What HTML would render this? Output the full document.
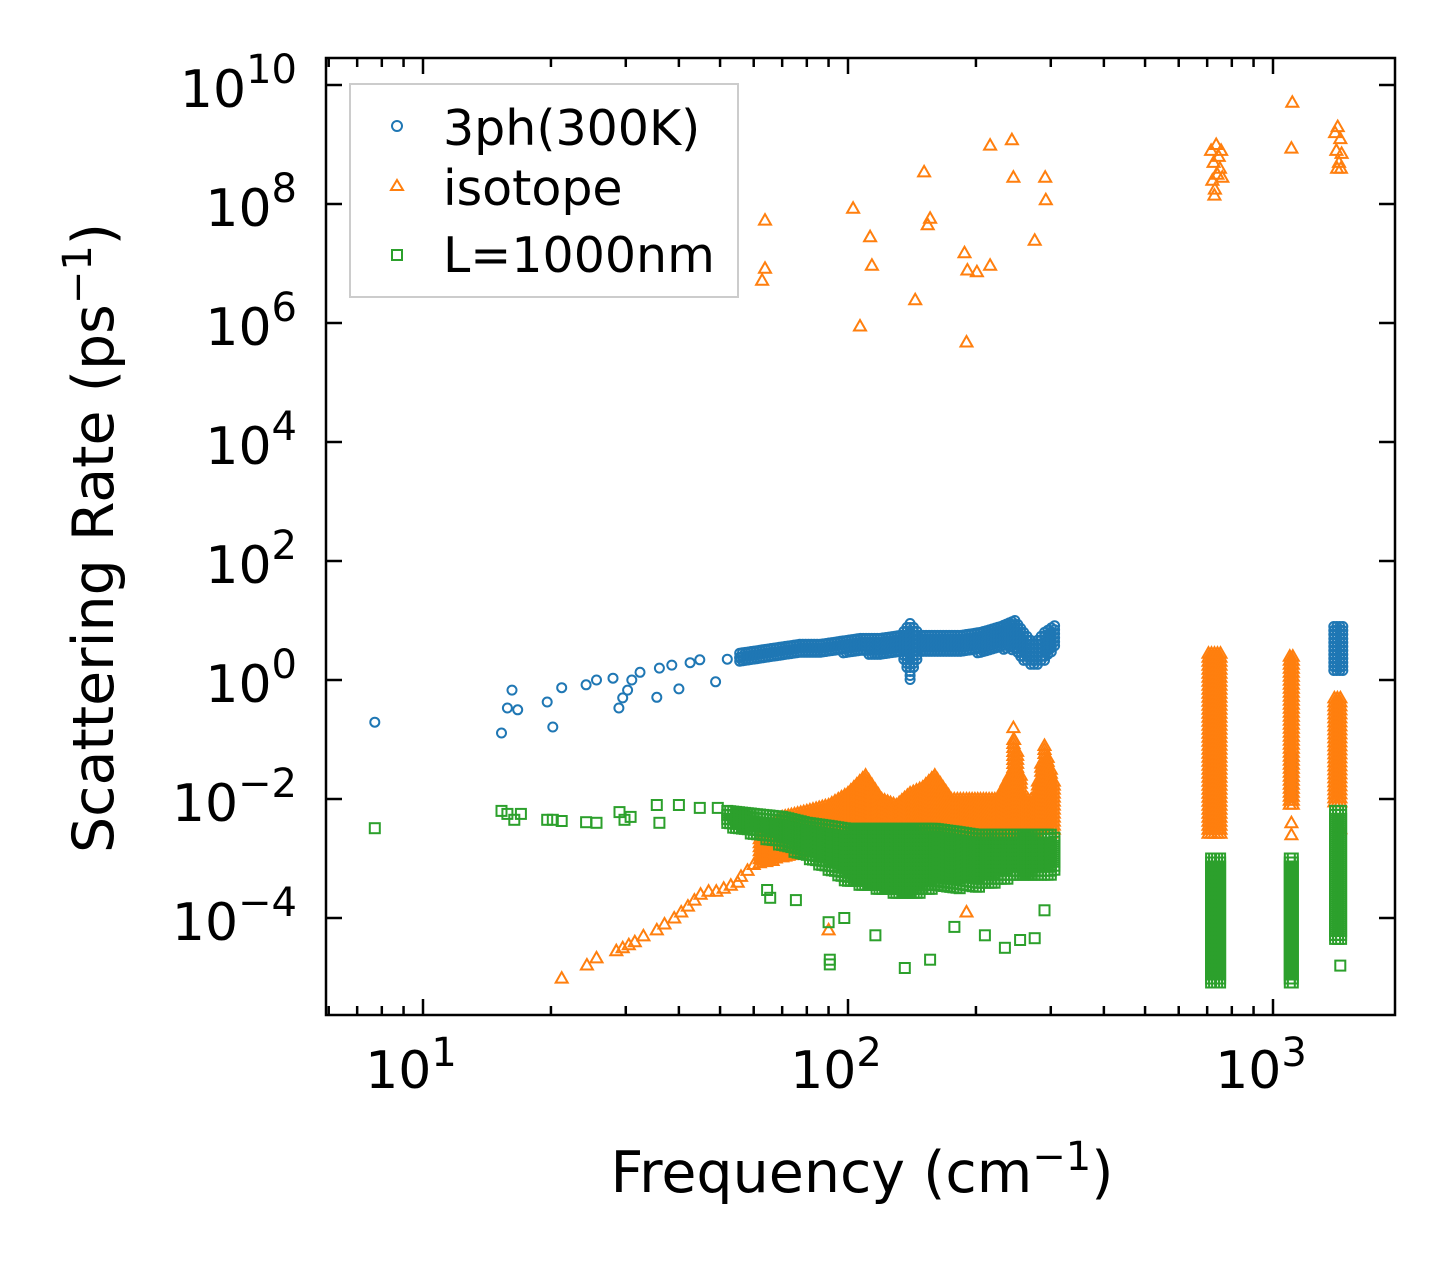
<!DOCTYPE html>
<html><head><meta charset="utf-8"><style>
body{margin:0;background:#fff}
svg text{font-family:"DejaVu Sans","Liberation Sans",sans-serif;fill:#000}
</style></head><body>
<svg id="chart" width="1455" height="1265" xmlns="http://www.w3.org/2000/svg">
<rect x="0" y="0" width="1455" height="1265" fill="#fff"/>
<g id="marks"></g>
<g id="axes"></g>
<g>
<rect x="350" y="84" width="388" height="213" fill="#fff" fill-opacity="0.8" stroke="#ccc" stroke-width="2"/>
<circle cx="397" cy="126" r="5" fill="none" stroke="#1f77b4" stroke-width="2"/>
<text x="443" y="145" font-size="49">3ph(300K)</text>
<path d="M397,180 L403,190 L391,190 Z" fill="none" stroke="#ff7f0e" stroke-width="2"/>
<text x="443" y="205" font-size="49">isotope</text>
<rect x="392" y="250" width="10" height="10" fill="none" stroke="#2ca02c" stroke-width="2"/>
<text x="443" y="272" font-size="49">L=1000nm</text>
</g>
<text x="862" y="1192" font-size="57" text-anchor="middle">Frequency (cm<tspan dy="-22" font-size="40">−1</tspan><tspan dy="22">)</tspan></text>
<text transform="translate(113,538) rotate(-90)" font-size="57" text-anchor="middle">Scattering Rate (ps<tspan dy="-22" font-size="40">−1</tspan><tspan dy="22">)</tspan></text>
</svg>
<script>
// ---- data (frequency in cm^-1, value as log10 of scattering rate) ----
const xTickLabels = ["1","2","3"];
const yTickExps = [10,8,6,4,2,0,-2,-4];
// 3ph sparse points
const ph3F = [7.7,15.3,15.8,16.2,16.7,19.6,20.2,21.2,24.2,25.6,28,28.9,29.5,30.3,31,32.4,35.5,36,38.5,40,42.5,44.8,48.8,52,55.6];
const ph3V = [-0.71,-0.89,-0.47,-0.17,-0.5,-0.37,-0.79,-0.13,-0.08,0,0.03,-0.47,-0.3,-0.17,0,0.13,-0.29,0.2,0.25,-0.15,0.29,0.34,-0.03,0.35,0.37];
// 3ph dense band
const ph3BandF = [55.6,62,69,77,86,96,107,119,133,140,148,165,184,205,229,247,259,274,290,312];
const ph3BandLo = [0.3,0.3,0.35,0.4,0.4,0.45,0.45,0.4,0.45,0.0,0.45,0.45,0.45,0.45,0.5,0.5,0.3,0.2,0.3,0.6];
const ph3BandHi = [0.45,0.5,0.55,0.6,0.6,0.65,0.7,0.7,0.75,0.95,0.75,0.75,0.75,0.8,0.9,1.0,0.8,0.6,0.8,0.95];
// 3ph high-frequency columns
const ph3ColF = [[715,745],[1095,1120],[1390,1470]];
const ph3ColLo = [-1.3,-2.0,0.1];
const ph3ColHi = [-0.8,-1.3,0.9];
// isotope sparse points
const isoF = [63.8,63.8,62.8,102.8,112.7,113.8,106.7,143.9,151,156,154,188,191,201,190,216,216,243,245,275,291,292,715,725,735,745,740,720,730,750,760,755,728,1110,1105,1400,1420,1440,1410,1430,1450,1415,1445,21.2,24.3,25.6,28.5,29.5,30.5,31.5,33,35.5,37,39,40.5,42,43.5,45,47,49,51,53,55,56,58,60,245,246,90,190,1105,1105,1440];
const isoV = [7.73,6.92,6.72,7.93,7.45,6.97,5.95,6.39,8.54,7.76,7.65,7.18,6.89,6.86,5.68,8.99,6.97,9.08,8.45,7.39,8.45,8.07,8.9,8.7,9.0,8.8,8.5,8.4,8.25,8.6,8.45,8.9,8.15,9.71,8.94,9.2,9.3,9.1,8.9,8.7,8.85,8.6,8.6,-5.01,-4.79,-4.67,-4.55,-4.5,-4.45,-4.4,-4.3,-4.2,-4.1,-4.0,-3.9,-3.8,-3.7,-3.6,-3.55,-3.55,-3.5,-3.45,-3.4,-3.3,-3.2,-3.1,-0.8,-1.0,-4.2,-3.9,-2.4,-2.6,-2.5];
// isotope dense band
const isoBandF = [62,70,80,90,100,110,120,130,140,150,160,175,190,205,225,240,245,250,260,275,290,300,310];
const isoBandLo = [-3.1,-3.0,-2.9,-2.8,-2.8,-2.8,-2.8,-2.8,-2.8,-2.8,-2.8,-2.8,-2.8,-2.8,-2.8,-2.7,-2.6,-2.5,-2.6,-2.6,-2.5,-2.6,-2.5];
const isoBandHi = [-2.6,-2.3,-2.2,-2.1,-1.9,-1.6,-2.0,-2.1,-1.9,-1.8,-1.6,-2.0,-2.0,-2.0,-2.0,-1.6,-1.0,-1.2,-2.0,-2.0,-1.1,-1.5,-1.9];
// isotope columns
const isoColF = [[705,760],[1095,1120],[1395,1460]];
const isoColLo = [-2.6,-2.1,-2.1];
const isoColHi = [0.45,0.4,-0.3];
// boundary sparse points
const bdF = [7.7,15.3,15.8,16.4,17,19.6,20.2,21.2,24.2,25.6,29,29.8,30.8,35.5,36,40,44.8,49.4,64.5,65.6,75.4,90,90.6,90.6,98,116,136,156,178,210,234,254,275,290,1440,720,1110];
const bdV = [-2.49,-2.2,-2.25,-2.35,-2.25,-2.35,-2.35,-2.37,-2.39,-2.4,-2.22,-2.35,-2.3,-2.1,-2.4,-2.1,-2.15,-2.15,-3.53,-3.66,-3.7,-4.07,-4.7,-4.78,-4.0,-4.29,-4.84,-4.7,-4.15,-4.29,-4.5,-4.37,-4.34,-3.87,-4.8,-4.6,-4.9];
// boundary dense band
const bdBandF = [52,60,70,80,90,100,115,130,145,160,180,200,225,250,275,300,312];
const bdBandLo = [-2.45,-2.6,-2.8,-3.0,-3.2,-3.4,-3.5,-3.6,-3.6,-3.5,-3.5,-3.5,-3.4,-3.3,-3.3,-3.3,-3.2];
const bdBandHi = [-2.2,-2.25,-2.3,-2.4,-2.45,-2.5,-2.5,-2.5,-2.5,-2.5,-2.55,-2.6,-2.6,-2.6,-2.6,-2.6,-2.7];
// boundary columns
const bdColF = [[715,760],[1095,1120],[1400,1460]];
const bdColLo = [-5.1,-5.1,-4.4];
const bdColHi = [-3.0,-3.0,-2.2];

// ---- axes functions ----
const L=326,R=1395,T=58,B=1015;
function xs(f){return 423+(Math.log10(f)-1)*425;}
function ys(v){return 680-v*59.5;}
const NS="http://www.w3.org/2000/svg";
const marks=document.getElementById('marks');
const axes=document.getElementById('axes');
function mk(tag,attrs,parent){const e=document.createElementNS(NS,tag);for(const k in attrs)e.setAttribute(k,attrs[k]);parent.appendChild(e);return e;}
const styles={
 blue:{c:"#1f77b4",name:"point-3ph"},
 orange:{c:"#ff7f0e",name:"point-isotope"},
 green:{c:"#2ca02c",name:"point-boundary"}
};
function marker(kind,px,py,name){
 let e;
 if(kind==='blue'){e=mk('circle',{cx:px.toFixed(1),cy:py.toFixed(1),r:4.5,fill:'none',stroke:styles.blue.c,'stroke-width':2},marks);}
 else if(kind==='orange'){e=mk('path',{d:`M${px.toFixed(1)},${(py-6).toFixed(1)} L${(px+6).toFixed(1)},${(py+4.5).toFixed(1)} L${(px-6).toFixed(1)},${(py+4.5).toFixed(1)} Z`,fill:'none',stroke:styles.orange.c,'stroke-width':2},marks);}
 else {e=mk('rect',{x:(px-5).toFixed(1),y:(py-5).toFixed(1),width:10,height:10,fill:'none',stroke:styles.green.c,'stroke-width':2},marks);}
 
 
}
function points(kind,F,V){for(let i=0;i<F.length;i++)marker(kind,xs(F[i]),ys(V[i]),styles[kind].name);}
function band(kind,F,Lo,Hi){
 for(let i=0;i<F.length-1;i++){
  const x0=xs(F[i]),x1=xs(F[i+1]);const n=Math.max(1,Math.round((x1-x0)/3));
  for(let s=0;s<n;s++){const t=s/n;const px=x0+(x1-x0)*t;
   const lo=ys(Lo[i]+(Lo[i+1]-Lo[i])*t),hi=ys(Hi[i]+(Hi[i+1]-Hi[i])*t);
   for(let py=hi;py<=lo;py+=4)marker(kind,px,py,styles[kind].name+'-band');}
 }
}
function cols(kind,CF,Lo,Hi){
 for(let i=0;i<CF.length;i++){const x0=xs(CF[i][0]),x1=xs(CF[i][1]);
  for(let px=x0;px<=x1;px+=3)for(let py=ys(Hi[i]);py<=ys(Lo[i]);py+=4)marker(kind,px,py,styles[kind].name+'-column');}
}
points('blue',ph3F,ph3V);band('blue',ph3BandF,ph3BandLo,ph3BandHi);cols('blue',ph3ColF,ph3ColLo,ph3ColHi);
points('orange',isoF,isoV);band('orange',isoBandF,isoBandLo,isoBandHi);cols('orange',isoColF,isoColLo,isoColHi);
points('green',bdF,bdV);band('green',bdBandF,bdBandLo,bdBandHi);cols('green',bdColF,bdColLo,bdColHi);

// frame
const fr=mk('rect',{x:L,y:T,width:R-L,height:B-T,fill:'none',stroke:'#000','stroke-width':2.5},axes);


// x ticks
for(let d=0;d<=3;d++){for(let m=1;m<=9;m++){const f=m*Math.pow(10,d);const px=xs(f);if(px<L||px>R)continue;const len=m===1?16:9;
 mk('line',{x1:px,y1:B,x2:px,y2:B-len,stroke:'#000','stroke-width':2.5},axes);
 mk('line',{x1:px,y1:T,x2:px,y2:T+len,stroke:'#000','stroke-width':2.5},axes);}}
xTickLabels.forEach(e=>{const t=mk('text',{x:xs(Math.pow(10,+e))-12,y:1088,'font-size':52,'text-anchor':'middle'},axes);
 
 
 t.textContent='10';const s=document.createElementNS(NS,'tspan');s.setAttribute('dy','-22');s.setAttribute('font-size','40');s.textContent=e;t.appendChild(s);});
// y ticks
yTickExps.forEach(e=>{const py=ys(e);
 mk('line',{x1:L,y1:py,x2:L+16,y2:py,stroke:'#000','stroke-width':2.5},axes);
 mk('line',{x1:R,y1:py,x2:R-16,y2:py,stroke:'#000','stroke-width':2.5},axes);
 const t=mk('text',{x:297,y:py+22,'font-size':52,'text-anchor':'end'},axes);
 
 
 t.textContent='10';const s=document.createElementNS(NS,'tspan');s.setAttribute('dy','-24');s.setAttribute('font-size','40');s.textContent=e<0?'−'+(-e):String(e);t.appendChild(s);});
</script>
</body></html>
